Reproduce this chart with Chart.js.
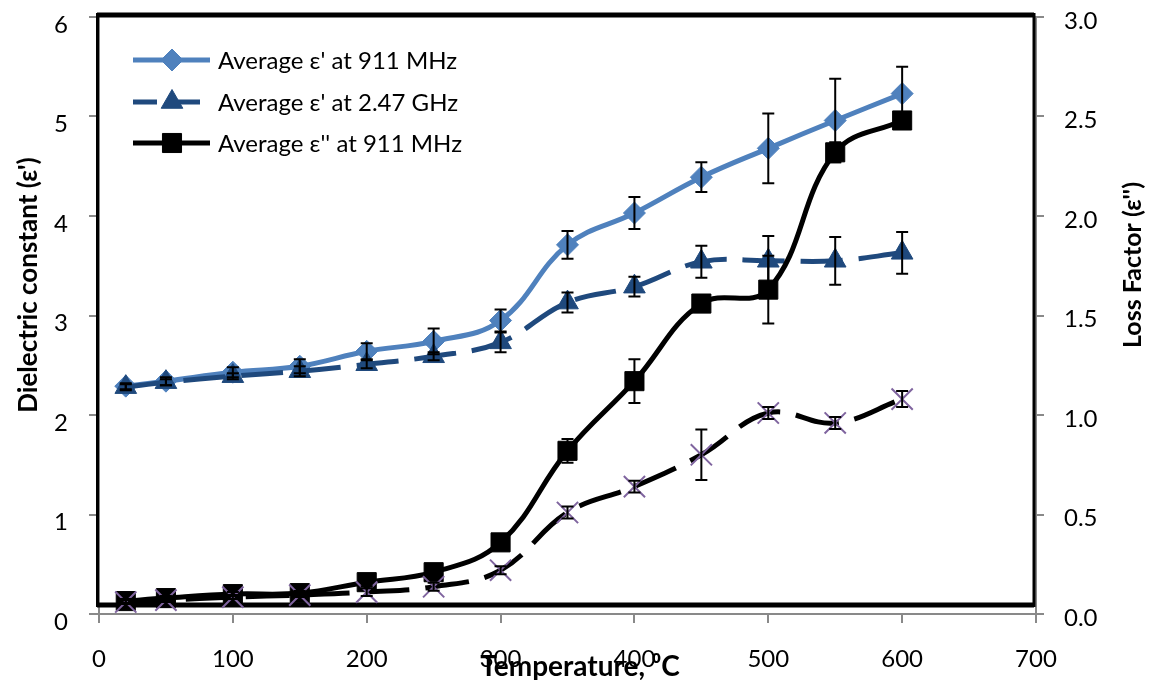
<!DOCTYPE html>
<html>
<head>
<meta charset="utf-8">
<script src="https://cdn.jsdelivr.net/npm/chart.js@4.4.1/dist/chart.umd.min.js"></script>
<style>
  html, body { margin: 0; padding: 0; background: #fff; }
  #grafico { display: block; }
</style>
</head>
<body>
<canvas id="grafico" width="1149" height="680" style="width:1149px;height:680px"></canvas>
<script>
// Dados (temperatura em °C)
const temperaturas = [20, 50, 100, 150, 200, 250, 300, 350, 400, 450, 500, 550, 600];

// ε' (eixo esquerdo)
const epsLinha911 = [2.29, 2.34, 2.43, 2.49, 2.64, 2.74, 2.95, 3.71, 4.03, 4.39, 4.68, 4.96, 5.23];
const epsLinha911Erro = [0.03, 0.04, 0.05, 0.07, 0.08, 0.13, 0.11, 0.14, 0.16, 0.15, 0.35, 0.42, 0.27];
const epsLinha247 = [2.28, 2.33, 2.39, 2.44, 2.51, 2.59, 2.73, 3.13, 3.29, 3.54, 3.55, 3.55, 3.63];
const epsLinha247Erro = [0.03, 0.03, 0.03, 0.05, 0.04, 0.04, 0.10, 0.10, 0.10, 0.16, 0.25, 0.24, 0.21];

// ε'' (eixo direito)
const epsDuas911 = [0.065, 0.08, 0.10, 0.105, 0.16, 0.21, 0.36, 0.82, 1.17, 1.56, 1.63, 2.32, 2.48];
const epsDuas911Erro = [0.01, 0.01, 0.01, 0.01, 0.02, 0.02, 0.03, 0.06, 0.11, 0.03, 0.17, 0.05, 0.03];
const epsDuas247 = [0.06, 0.07, 0.085, 0.095, 0.11, 0.137, 0.22, 0.51, 0.64, 0.80, 1.01, 0.96, 1.08];
const epsDuas247Erro = [0.01, 0.01, 0.01, 0.01, 0.02, 0.02, 0.02, 0.03, 0.03, 0.127, 0.03, 0.03, 0.04];

const ticksX = [0, 100, 200, 300, 400, 500, 600, 700];
const tituloX = 'Temperature, \u2070C';
const tituloEsq = "Dielectric constant (\u03b5')";
const tituloDir = "Loss Factor (\u03b5'')";

const FONTE = 'Lato, "DejaVu Sans", sans-serif';
const CINZA = '#898989';
const AZUL_CLARO = '#4F81BD';
const AZUL_ESCURO = '#1F497D';
const ROXO = '#7F649F';

function pontos(valores) {
    return temperaturas.map((t, i) => ({ x: t, y: valores[i] }));
}

const series = [
    {
        label: "Average \u03b5' at 911 MHz", data: pontos(epsLinha911), erros: epsLinha911Erro, yAxisID: 'y',
        borderColor: AZUL_CLARO, backgroundColor: AZUL_CLARO, borderWidth: 5, tension: 0.4,
        pointStyle: 'rectRot', pointRadius: 11, pointBackgroundColor: AZUL_CLARO, pointBorderColor: AZUL_CLARO, pointBorderWidth: 1,
        order: 3, legenda: true
    },
    {
        label: "Average \u03b5' at 2.47 GHz", data: pontos(epsLinha247), erros: epsLinha247Erro, yAxisID: 'y',
        borderColor: AZUL_ESCURO, backgroundColor: AZUL_ESCURO, borderWidth: 5, borderDash: [42, 16], tension: 0.4,
        pointStyle: 'triangle', pointRadius: 12.5, pointBackgroundColor: AZUL_ESCURO, pointBorderColor: AZUL_ESCURO, pointBorderWidth: 1,
        order: 2, legenda: true
    },
    {
        label: "Average \u03b5'' at 911 MHz", data: pontos(epsDuas911), erros: epsDuas911Erro, yAxisID: 'y1',
        borderColor: '#000', backgroundColor: '#000', borderWidth: 5, tension: 0.4,
        pointStyle: 'rect', pointRadius: 13.5, pointBackgroundColor: '#000', pointBorderColor: '#000', pointBorderWidth: 1,
        order: 1, legenda: true
    },
    {
        label: "Average \u03b5'' at 2.47 GHz", data: pontos(epsDuas247), erros: epsDuas247Erro, yAxisID: 'y1',
        borderColor: '#000', backgroundColor: ROXO, borderWidth: 5, borderDash: [44, 16], tension: 0.4,
        pointStyle: 'crossRot', pointRadius: 15, pointBackgroundColor: ROXO, pointBorderColor: ROXO, pointBorderWidth: 2,
        order: 0, legenda: false
    }
];

// Moldura preta, barras de erro, legenda e títulos dos eixos
const decoracao = {
    id: 'decoracao',
    beforeDatasetsDraw(chart) {
        const ctx = chart.ctx;
        ctx.save();
        ctx.strokeStyle = '#000';
        ctx.lineWidth = 5;
        ctx.beginPath();
        ctx.moveTo(97, 15); ctx.lineTo(1034, 15);
        ctx.moveTo(97, 605); ctx.lineTo(1034, 605);
        ctx.stroke();
        ctx.lineWidth = 3;
        ctx.beginPath();
        ctx.moveTo(97.5, 13); ctx.lineTo(97.5, 607);
        ctx.moveTo(1034, 13); ctx.lineTo(1034, 607);
        ctx.stroke();
        ctx.restore();
    },
    afterDatasetsDraw(chart) {
        const ctx = chart.ctx;
        ctx.save();
        ctx.strokeStyle = '#000';
        ctx.lineWidth = 2;
        chart.data.datasets.forEach((ds, i) => {
            const meta = chart.getDatasetMeta(i);
            const escala = chart.scales[ds.yAxisID];
            meta.data.forEach((p, j) => {
                const v = ds.data[j].y, e = ds.erros[j];
                const yTopo = escala.getPixelForValue(v + e);
                const yBase = escala.getPixelForValue(v - e);
                ctx.beginPath();
                ctx.moveTo(p.x, yTopo); ctx.lineTo(p.x, yBase);
                ctx.moveTo(p.x - 6, yTopo); ctx.lineTo(p.x + 6, yTopo);
                ctx.moveTo(p.x - 6, yBase); ctx.lineTo(p.x + 6, yBase);
                ctx.stroke();
            });
        });
        ctx.restore();
    },
    afterDraw(chart) {
        const ctx = chart.ctx;
        ctx.save();
        // legenda
        const linhasY = [60, 102, 143];
        chart.data.datasets.filter(ds => ds.legenda).forEach((ds, k) => {
            const y = linhasY[k];
            ctx.strokeStyle = ds.borderColor;
            ctx.lineWidth = 5;
            ctx.setLineDash(ds.borderDash ? [24, 19] : []);
            ctx.beginPath();
            ctx.moveTo(133, y); ctx.lineTo(ds.borderDash ? 200 : 210, y);
            ctx.stroke();
            ctx.setLineDash([]);
            ctx.fillStyle = ds.pointBackgroundColor;
            ctx.strokeStyle = ds.pointBorderColor;
            ctx.lineWidth = ds.pointBorderWidth;
            Chart.helpers.drawPoint(ctx, {
                pointStyle: ds.pointStyle, radius: ds.pointRadius, rotation: 0,
                borderWidth: ds.pointBorderWidth
            }, 172, y);
            ctx.fillStyle = '#000';
            ctx.font = '24px ' + FONTE;
            ctx.textAlign = 'left';
            ctx.textBaseline = 'middle';
            ctx.fillText(ds.label, 218, y + 1);
        });
        // títulos
        ctx.fillStyle = '#000';
        ctx.font = 'bold 28px ' + FONTE;
        ctx.textAlign = 'center';
        ctx.textBaseline = 'middle';
        ctx.fillText(tituloX, 580, 667);
        ctx.font = 'bold 26px ' + FONTE;
        ctx.save();
        ctx.translate(29, 285);
        ctx.rotate(-Math.PI / 2);
        ctx.fillText(tituloEsq, 0, 0);
        ctx.restore();
        ctx.font = 'bold 25px ' + FONTE;
        ctx.save();
        ctx.translate(1133, 265);
        ctx.rotate(-Math.PI / 2);
        ctx.fillText(tituloDir, 0, 0);
        ctx.restore();
        ctx.restore();
    }
};

const fonteTicks = { family: FONTE, size: 24 };

function semPaddingY(s, largura) {
    s.width = largura;
    s.paddingTop = 0;
    s.paddingBottom = 0;
}

new Chart(document.getElementById('grafico').getContext('2d'), {
    type: 'line',
    data: { datasets: series },
    options: {
        responsive: false,
        animation: false,
        layout: { padding: { top: 15, left: 0, right: 0, bottom: 0 } },
        plugins: { legend: { display: false }, tooltip: { enabled: false } },
        scales: {
            x: {
                type: 'linear', min: 0, max: 700,
                afterBuildTicks: s => { s.ticks = ticksX.map(v => ({ value: v })); },
                ticks: { font: fonteTicks, color: '#000', padding: 22, maxRotation: 0 },
                grid: { drawOnChartArea: false, tickLength: 9, color: CINZA, lineWidth: 2 },
                border: { color: CINZA, width: 2 },
                afterFit: s => { s.height = 66; s.paddingLeft = 0; s.paddingRight = 0; }
            },
            y: {
                position: 'left', min: 0, max: 6,
                ticks: { stepSize: 1, font: fonteTicks, color: '#000', padding: 21, labelOffset: 8 },
                grid: { drawOnChartArea: false, tickLength: 10, color: CINZA, lineWidth: 2 },
                border: { color: CINZA, width: 2 },
                afterFit: s => semPaddingY(s, 99)
            },
            y1: {
                position: 'right', min: 0, max: 3,
                ticks: { stepSize: 0.5, font: fonteTicks, color: '#000', padding: 20, labelOffset: 4,
                         callback: v => v.toFixed(1) },
                grid: { drawOnChartArea: false, tickLength: 8, color: CINZA, lineWidth: 2 },
                border: { color: CINZA, width: 2 },
                afterFit: s => semPaddingY(s, 113)
            }
        }
    },
    plugins: [decoracao]
});
</script>
</body>
</html>
